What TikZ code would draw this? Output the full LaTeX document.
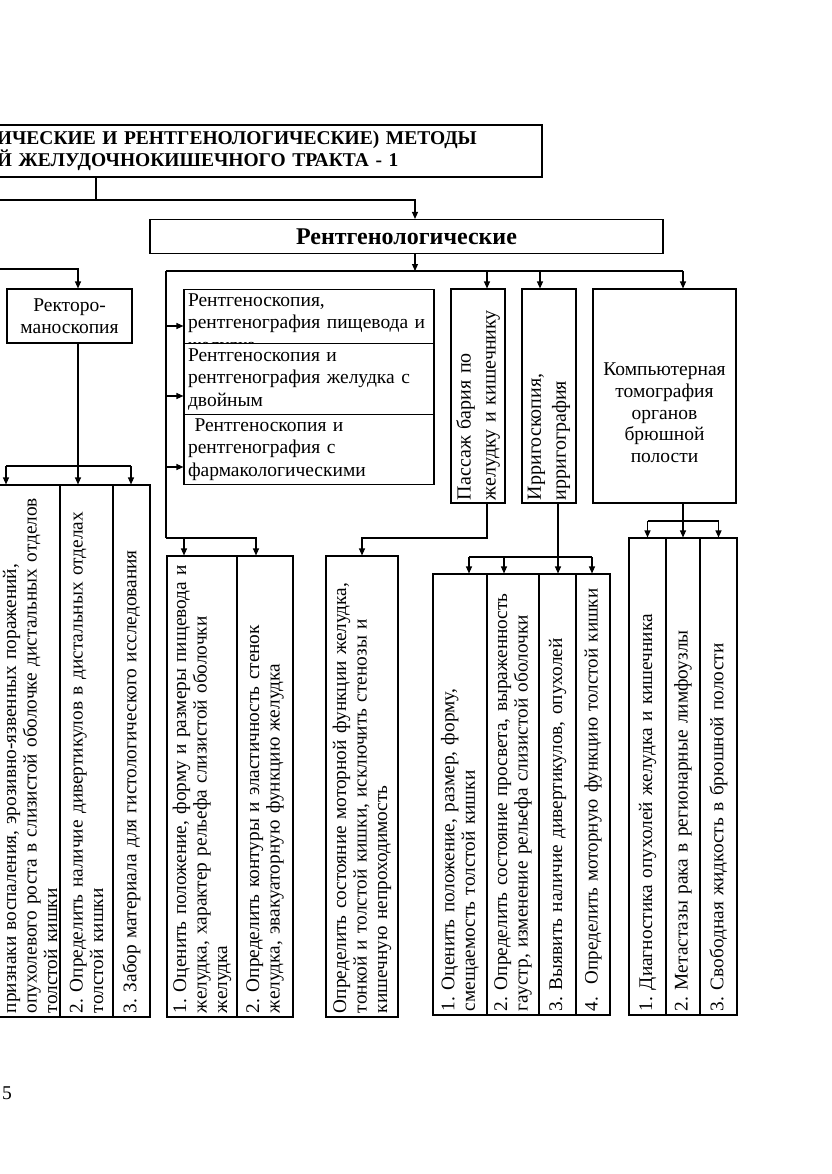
\documentclass[tikz,border=0pt]{standalone}
\usepackage{fontspec}
\setmainfont{Liberation Serif}
\usetikzlibrary{positioning, arrows.meta}
\newcommand{\boxfont}{\fontsize{19.5}{22.5}\selectfont}
\newcommand{\colfont}{\fontsize{19.3}{20.5}\selectfont}
\newcommand{\headfont}{\bfseries\fontsize{19.5}{19.5}\selectfont}
\frenchspacing

\begin{document}
\begin{tikzpicture}[x=1pt, y=-1pt, >={Triangle[length=7pt,width=6pt]}, line width=1.1pt,
  box/.style={draw, fill=white, inner sep=3pt, font=\boxfont},
  stackbox/.style={draw, fill=white, anchor=north, text width=242pt, minimum height=#1,
                   align=left, inner xsep=4pt, inner ysep=4pt, font=\boxfont},
  colbox/.style={draw, fill=white, rotate=90, align=left, inner xsep=4pt, inner ysep=0pt,
                 font=\colfont},
  coltext/.style={rotate=90, align=left, inner xsep=4pt, inner ysep=0pt, font=\colfont}]
  \useasboundingbox (0,0) rectangle (831,1174);
  \clip (0,0) rectangle (831,1174);

  % Title box
  \node[draw, minimum width=552pt, minimum height=52pt, text width=538pt, align=left,
        inner xsep=7pt, font=\headfont] (title) at (266,151)
    {ИЧЕСКИЕ И РЕНТГЕНОЛОГИЧЕСКИЕ) МЕТОДЫ\\Й ЖЕЛУДОЧНОКИШЕЧНОГО ТРАКТА - 1};
  % Rentgen box
  \node[box, minimum width=513pt, minimum height=34pt, font=\bfseries\fontsize{24}{26}\selectfont]
    (rentgen) at (406.5,236.5) {Рентгенологические};

  % Rectoscopy
  \node[box, minimum width=125pt, minimum height=54pt, align=center] (rect) at (69.5,316)
    {Ректоро-\\маноскопия};

  % Stack of X-ray boxes
  \node[stackbox=54pt] (sA) at (309,289)
    {Рентгеноскопия,\\рентгенография пищевода и\\желудка};
  \node[stackbox=71pt] (sB) at (309,343)
    {Рентгеноскопия и\\рентгенография желудка с\\двойным};
  \node[stackbox=69pt] (sC) at (309,414)
    {\ Рентгеноскопия и\\рентгенография с\\фармакологическими};

  % Barium, irrigoscopy, CT
  \node[colbox, minimum height=54pt, text width=208pt, inner xsep=3pt,
        font=\fontsize{20}{25}\selectfont] (pas) at (478,396)
    {Пассаж бария по\\желудку и кишечнику};
  \node[colbox, minimum height=54pt, text width=208pt, inner xsep=3pt,
        font=\fontsize{20}{25}\selectfont] (irr) at (549,396)
    {Ирригоскопия,\\ирригография};
  \node[box, minimum width=143pt, minimum height=214pt] (kt) at (664.5,396) {};
  \node[align=center, font=\fontsize{19.5}{21.7}\selectfont] (ktlbl) at (664.5,413)
    {Компьютерная\\томография\\органов\\брюшной\\полости};

  % Rectoscopy tasks
  \node[colbox, minimum height=100pt, text width=524pt] (lc1) at (10,751) {};
  \node[coltext, text width=524pt] (lt1) at (30,751)
    {признаки воспаления, эрозивно-язвенных поражений,\\опухолевого роста в слизистой оболочке дистальных отделов\\толстой кишки};
  \node[colbox, minimum height=53pt, text width=524pt] (lc2) at (86.5,751)
    {2. Определить наличие дивертикулов в дистальных отделах\\толстой кишки};
  \node[colbox, minimum height=37pt, text width=524pt] (lc3) at (131.5,751)
    {3. Забор материала для гистологического исследования};

  % Stomach tasks
  \node[colbox, minimum height=70pt, text width=453pt] (oc1) at (202,786.5)
    {1. Оценить положение, форму и размеры пищевода и\\желудка, характер рельефа слизистой оболочки\\желудка};
  \node[colbox, minimum height=56pt, text width=453pt] (oc2) at (265,786.5)
    {2. Определить контуры и эластичность стенок\\желудка, эвакуаторную функцию желудка};
  \node[colbox, minimum height=72pt, text width=453pt] (mot) at (362,786.5)
    {Определить состояние моторной функции желудка,\\тонкой и толстой кишки, исключить стенозы и\\кишечную непроходимость};

  % Colon tasks
  \node[colbox, minimum height=54pt, text width=433pt] (ir1) at (460,794.5)
    {1. Оценить положение, размер, форму,\\смещаемость толстой кишки};
  \node[colbox, minimum height=52pt, text width=433pt] (ir2) at (513,794.5)
    {2. Определить состояние просвета, выраженность\\гаустр, изменение рельефа слизистой оболочки};
  \node[colbox, minimum height=37pt, text width=433pt] (ir3) at (557.5,794.5)
    {3. Выявить наличие дивертикулов, опухолей};
  \node[colbox, minimum height=34pt, text width=433pt, font=\fontsize{19}{20}\selectfont]
    (ir4) at (593,794.5) {4.\ \ Определить моторную функцию толстой кишки};

  % CT tasks
  \node[colbox, minimum height=37pt, text width=469pt] (kt1) at (647.5,776.5)
    {1. Диагностика опухолей желудка и кишечника};
  \node[colbox, minimum height=34pt, text width=469pt] (kt2) at (683,776.5)
    {2. Метастазы рака в регионарные лимфоузлы};
  \node[colbox, minimum height=37pt, text width=469pt] (kt3) at (718.5,776.5)
    {3. Свободная жидкость в брюшной полости};

  \node[font=\boxfont] (page) at (7,1093) {5};

  % connectors
  \draw (title.south -| 96,0) -- (96,200);
  \draw[->] (0,200) -| (rentgen.north -| 415,0);
  \draw[->] (rentgen.south -| 415,0) -- (415,271);
  \draw (166,271) -- (683,271);
  \draw[->] (487,271) -- (pas.east -| 487,0);
  \draw[->] (540,271) -- (irr.east -| 540,0);
  \draw[->] (683,271) -- (kt.north -| 683,0);
  \draw (166,271) -- (166,538);
  \foreach \s/\y in {sA/326, sB/396, sC/467}
    \draw[->] (166,\y) -- (\s.west |- 0,\y);
  \draw[->] (166,538) -| (oc1.east -| 184,0);
  \draw[->] (184,538) -| (oc2.east -| 256,0);

  \draw[->] (0,269) -| (rect.north -| 78,0);
  \draw (rect.south -| 78,0) -- (78,466);
  \draw (6,466) -- (131,466);
  \foreach \c/\x in {lc1/6, lc2/78, lc3/131}
    \draw[->] (\x,466) -- (\c.east -| \x,0);

  \draw[->] (pas.west -| 487,0) |- (362,538) -- (mot.east);

  \draw (irr.west -| 558,0) -- (558,557);
  \draw (469,557) -- (592,557);
  \foreach \c/\x in {ir1/469, ir2/504, ir3/558, ir4/592}
    \draw[->] (\x,557) -- (\c.east -| \x,0);

  \draw (kt.south -| 683,0) -- (683,521);
  \draw (647.5,521) -- (718.5,521);
  \foreach \c in {kt1, kt2, kt3}
    \draw[->] (\c.east |- 0,521) -- (\c.east);
\end{tikzpicture}
\end{document}
